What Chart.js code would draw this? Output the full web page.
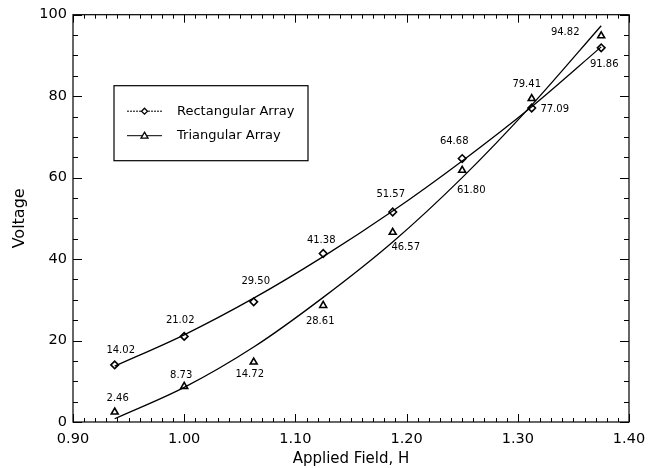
<!DOCTYPE html>
<html>
<head>
<meta charset="utf-8">
<script src="https://cdn.jsdelivr.net/npm/chart.js@4/dist/chart.umd.min.js"></script>
<style>
  html, body { margin: 0; padding: 0; background: #fff; }
  #wrap { width: 667px; height: 468px; }
</style>
</head>
<body>
<div id="wrap"><canvas id="chart" width="667" height="468"></canvas></div>
<script>
// ── Data ──────────────────────────────────────────────────────────────────────
const fieldValues = [0.9375, 1.0, 1.0625, 1.125, 1.1875, 1.25, 1.3125, 1.375];
const rectVoltage = [14.02, 21.02, 29.50, 41.38, 51.57, 64.68, 77.09, 91.86];
const triVoltage = [2.46, 8.73, 14.72, 28.61, 46.57, 61.80, 79.41, 94.82];
// fitted curves, as drawn in the figure
const rectFit = [13.7, 21.4, 30.4, 40.6, 51.8, 64.1, 77.4, 92.1];
const triFit = [0.8, 8.5, 18.4, 30.6, 44.2, 60.0, 77.8, 97.3];
const seriesNames = ['Rectangular Array', 'Triangular Array'];

const FONT = '"DejaVu Sans", "Liberation Sans", sans-serif';

// label offsets (px) from each marker
const RECT_LABEL_OFFSETS = [[6, -14], [-4, -16], [2, -20], [-2, -13], [-2, -18], [-8, -17], [23, 1], [3, 17]];
const TRI_LABEL_OFFSETS = [[3, -14], [-3, -11], [-4, 12], [-3, 16], [13, 15], [9, 20], [-5, -14], [-36, -3]];

const toXY = (xs, ys) => xs.map((x, i) => ({ x, y: ys[i] }));

// ── Frame with inward ticks on all four sides ────────────────────────────────
const framePlugin = {
    id: 'frame',
    afterDraw(chart) {
        const { ctx, chartArea: { left, right, top, bottom }, scales: { x, y } } = chart;
        ctx.save();
        ctx.strokeStyle = '#000';
        ctx.lineWidth = 1.2;
        ctx.strokeRect(left, top, right - left, bottom - top);
        ctx.lineWidth = 1;
        ctx.beginPath();
        for (let i = 0; i <= 50; i++) {
            const px = Math.round(x.getPixelForValue(0.9 + i * 0.01)) + 0.5;
            const len = i % 10 === 0 ? 8 : 4;
            ctx.moveTo(px, bottom); ctx.lineTo(px, bottom - len);
            ctx.moveTo(px, top); ctx.lineTo(px, top + len);
        }
        for (let i = 0; i <= 20; i++) {
            const py = Math.round(y.getPixelForValue(i * 5)) + 0.5;
            const len = i % 4 === 0 ? 9 : 5;
            ctx.moveTo(left, py); ctx.lineTo(left + len, py);
            ctx.moveTo(right, py); ctx.lineTo(right - len, py);
        }
        ctx.stroke();
        ctx.restore();
    }
};

// ── Value labels + legend box ────────────────────────────────────────────────
const annotatePlugin = {
    id: 'annotate',
    afterDatasetsDraw(chart) {
        const { ctx, chartArea: { left, top }, scales: { x, y } } = chart;
        ctx.save();
        ctx.fillStyle = '#000';
        ctx.font = '10px ' + FONT;
        ctx.textAlign = 'center';
        ctx.textBaseline = 'middle';
        const put = (vals, offs) => vals.forEach((v, i) => {
            const px = x.getPixelForValue(fieldValues[i]);
            const py = y.getPixelForValue(v);
            ctx.fillText(v.toFixed(2), px + offs[i][0], py + offs[i][1]);
        });
        put(rectVoltage, RECT_LABEL_OFFSETS);
        put(triVoltage, TRI_LABEL_OFFSETS);

        // legend
        const bx = left + 41, by = top + 71, bw = 194, bh = 75;
        ctx.strokeStyle = '#000';
        ctx.lineWidth = 1.2;
        ctx.strokeRect(bx, by, bw, bh);

        const rowY = [by + 25.5, by + 50];
        const x0 = bx + 13, x1 = bx + 48, mx = (x0 + x1) / 2;
        ctx.lineWidth = 1;
        ctx.setLineDash([2, 1]);
        ctx.beginPath(); ctx.moveTo(x0, rowY[0]); ctx.lineTo(x1, rowY[0]); ctx.stroke();
        ctx.setLineDash([]);
        ctx.beginPath(); ctx.moveTo(x0, rowY[1]); ctx.lineTo(x1, rowY[1]); ctx.stroke();

        ctx.lineWidth = 1.3;
        ctx.fillStyle = '#fff';
        // diamond
        ctx.beginPath();
        ctx.moveTo(mx, rowY[0] - 3); ctx.lineTo(mx + 3, rowY[0]);
        ctx.lineTo(mx, rowY[0] + 3); ctx.lineTo(mx - 3, rowY[0]); ctx.closePath();
        ctx.fill(); ctx.stroke();
        // triangle
        ctx.beginPath();
        ctx.moveTo(mx, rowY[1] - 3.5); ctx.lineTo(mx + 3.5, rowY[1] + 2.5);
        ctx.lineTo(mx - 3.5, rowY[1] + 2.5); ctx.closePath();
        ctx.fill(); ctx.stroke();

        ctx.fillStyle = '#000';
        ctx.font = '13px ' + FONT;
        ctx.textAlign = 'left';
        ctx.fillText(seriesNames[0], bx + 63, rowY[0]);
        ctx.fillText(seriesNames[1], bx + 63, rowY[1]);
        ctx.restore();
    }
};

const curve = data => ({
    data,
    showLine: true,
    borderColor: '#000',
    borderWidth: 1.3,
    pointRadius: 0,
    cubicInterpolationMode: 'monotone',
    fill: false
});

const markers = (data, style, r) => ({
    data,
    showLine: false,
    pointStyle: style,
    pointRadius: r,
    pointBorderWidth: 1.6,
    pointBorderColor: '#000',
    pointBackgroundColor: '#fff'
});

new Chart(document.getElementById('chart'), {
    type: 'scatter',
    data: {
        datasets: [
            curve(toXY(fieldValues, rectFit)),
            curve(toXY(fieldValues, triFit)),
            markers(toXY(fieldValues, rectVoltage), 'rectRot', 3.8),
            markers(toXY(fieldValues, triVoltage), 'triangle', 4)
        ]
    },
    options: {
        responsive: false,
        animation: false,
        layout: { padding: { top: 11, right: 38, left: 0, bottom: 0 } },
        plugins: { legend: { display: false }, tooltip: { enabled: false } },
        scales: {
            x: {
                type: 'linear',
                min: 0.9,
                max: 1.4,
                afterFit: s => { s.height = 46; },
                grid: { display: false, drawTicks: false },
                border: { display: false },
                ticks: {
                    stepSize: 0.1,
                    padding: 9,
                    color: '#000',
                    font: { family: FONT, size: 14.5 },
                    callback: v => v.toFixed(2)
                },
                title: {
                    display: true,
                    text: 'Applied Field, H',
                    color: '#000',
                    font: { family: FONT, size: 15 },
                    padding: { top: 0, bottom: 0 }
                }
            },
            y: {
                min: 0,
                max: 100,
                afterFit: s => { s.width = 73; },
                grid: { display: false, drawTicks: false },
                border: { display: false },
                ticks: {
                    stepSize: 20,
                    padding: 6,
                    color: '#000',
                    font: { family: FONT, size: 14.5 }
                },
                title: {
                    display: true,
                    text: 'Voltage',
                    color: '#000',
                    font: { family: FONT, size: 16 },
                    padding: { top: 10, bottom: 0 }
                }
            }
        }
    },
    plugins: [framePlugin, annotatePlugin]
});
</script>
</body>
</html>
